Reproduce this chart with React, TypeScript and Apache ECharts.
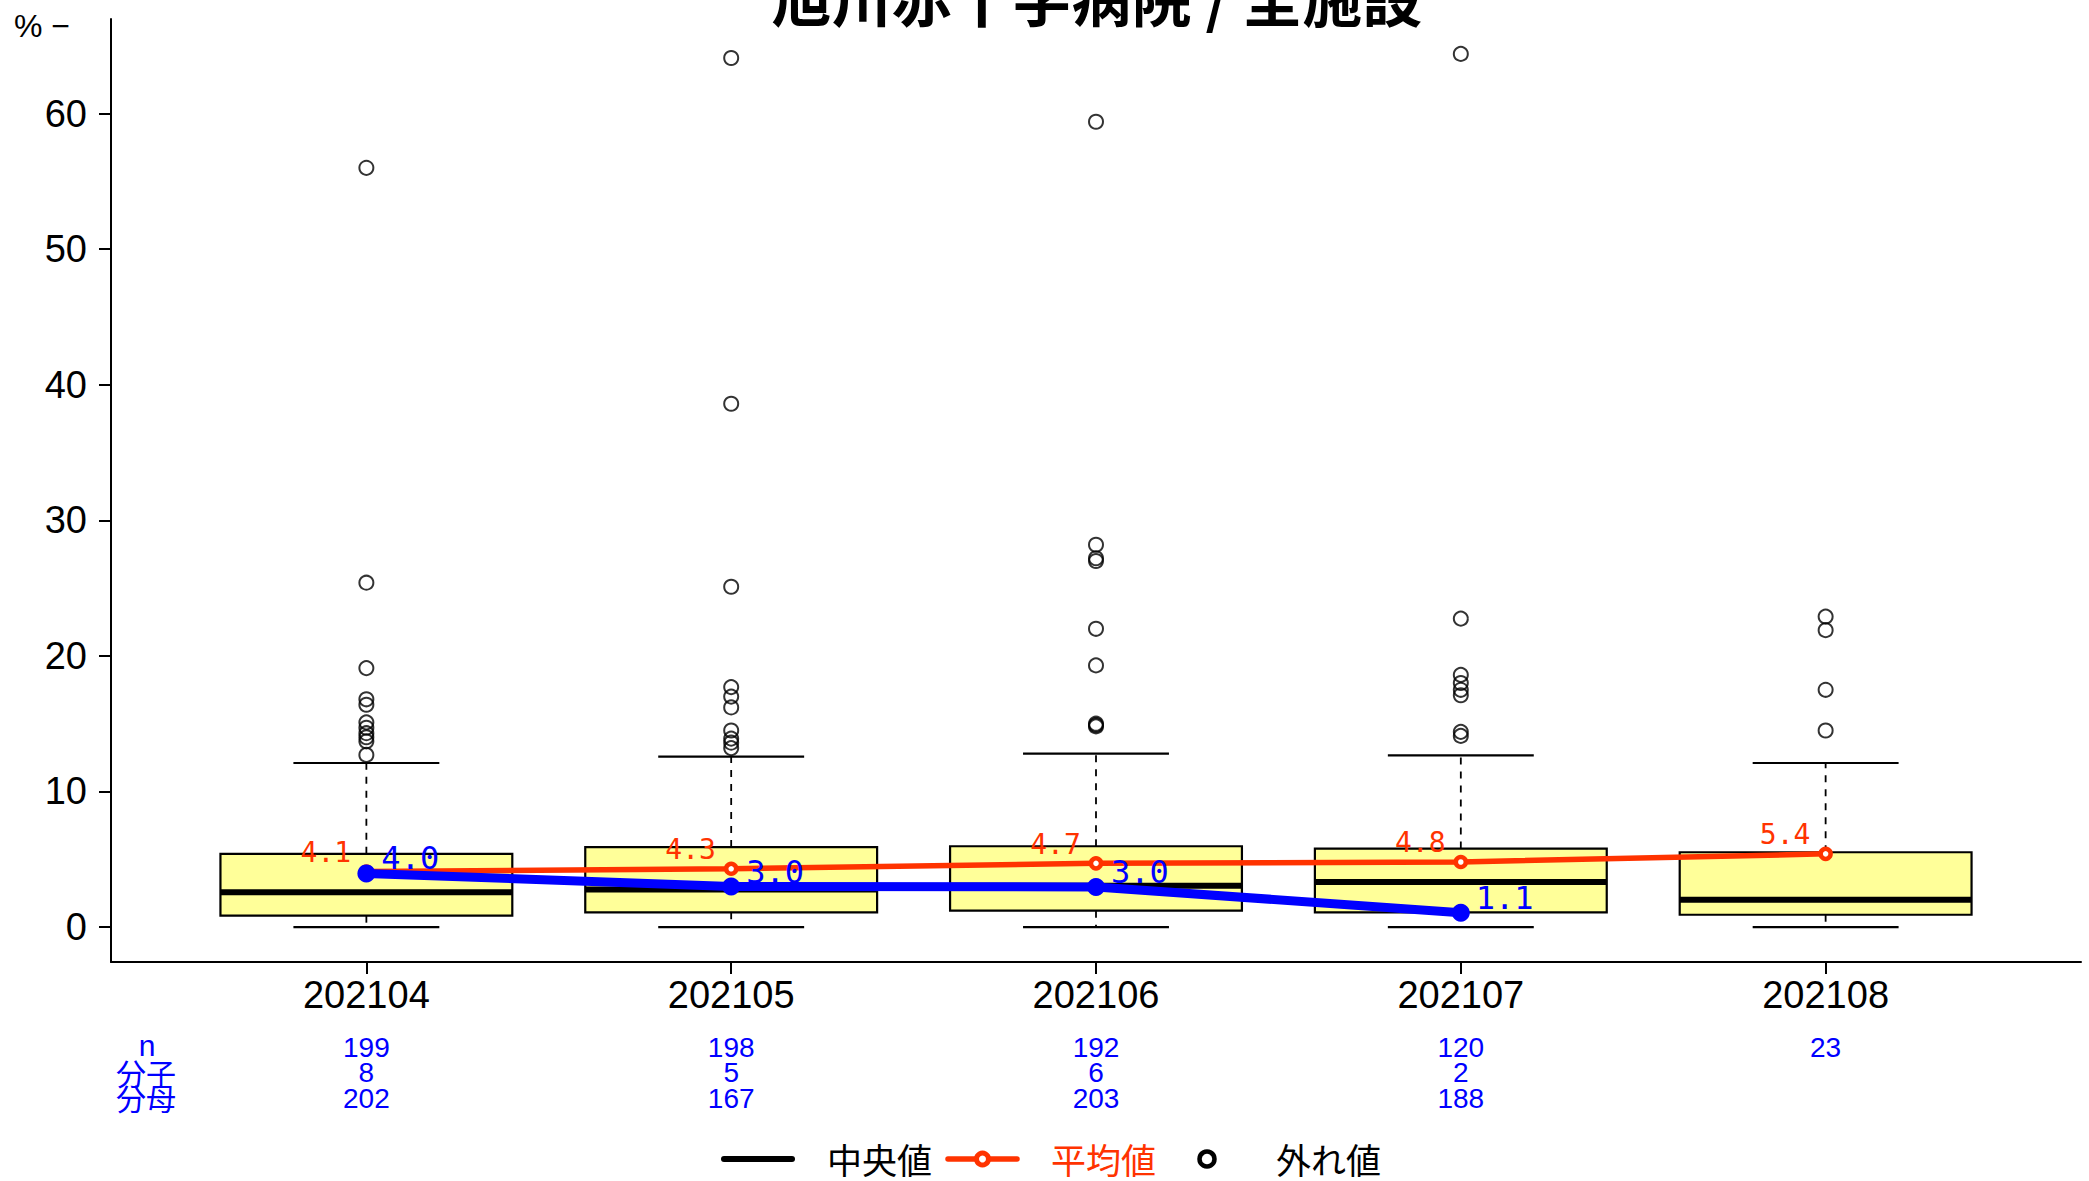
import React, { useEffect, useRef } from "react";
import * as echarts from "echarts";

// ---------- data ----------
const categories = ["202104", "202105", "202106", "202107", "202108"];
const catX = [1, 2, 3, 4, 5];
const boxLower = [0, 0, 0, 0, 0];
const boxQ1 = [0.84, 1.09, 1.21, 1.08, 0.91];
const boxMedian = [2.57, 2.77, 3.05, 3.33, 2.02];
const boxQ3 = [5.4, 5.9, 5.96, 5.79, 5.52];
const boxUpper = [12.1, 12.57, 12.8, 12.67, 12.1];

const outliers202104 = [56.0, 25.4, 19.1, 16.8, 16.4, 15.1, 14.7, 14.3, 14.0, 13.7, 12.7];
const outliers202105 = [64.1, 38.6, 25.1, 17.7, 17.0, 16.2, 14.5, 13.9, 13.6, 13.2];
const outliers202106 = [59.4, 28.2, 27.2, 27.0, 22.0, 19.3, 15.0, 14.9, 14.8];
const outliers202107 = [64.4, 22.75, 18.6, 18.0, 17.5, 17.1, 14.4, 14.1];
const outliers202108 = [22.9, 21.9, 17.5, 14.5];

const facilityMean = [4.1, 4.3, 4.7, 4.8, 5.4];
const hospitalRate = [3.96, 2.99, 2.96, 1.06];

const nCount = [199, 198, 192, 120, 23];
const numerator = [8, 5, 6, 2];
const denominator = [202, 167, 203, 188];

const yTicks = [0, 10, 20, 30, 40, 50, 60];
const rowHeaders = ["n", "分子", "分母"];

// ---------- style ----------
const RED = "#FF3300";
const BLUE = "#0000FF";
const LATIN = "Liberation Sans";
const CJK = "Noto Sans CJK JP";
const MONO = "DejaVu Sans Mono";
const X_MIN = 0.3;
const X_MAX = 5.7;
const Y_MIN = -2.576;
const Y_MAX = 66.976;

const rowAxis = (values: number[], offset: number) => ({
  type: "value",
  gridIndex: 0,
  position: "bottom",
  offset,
  min: X_MIN,
  max: X_MAX,
  axisLine: { show: false, onZero: false },
  axisTick: { show: false },
  splitLine: { show: false },
  axisLabel: {
    customValues: values.map((_, i) => i + 1),
    formatter: (v: number) => String(values[Math.round(v) - 1]),
    color: BLUE,
    fontSize: 28,
    fontFamily: LATIN,
    margin: 0,
    verticalAlign: "middle",
  },
});

export default function App() {
  const ref = useRef<HTMLDivElement>(null);

  useEffect(() => {
    if (!ref.current) return;
    const chart = echarts.init(ref.current, undefined, { renderer: "svg" });

    const boxData = catX.map((x, i) => [x, boxLower[i], boxQ1[i], boxMedian[i], boxQ3[i], boxUpper[i]]);
    const outlierGroups = [outliers202104, outliers202105, outliers202106, outliers202107, outliers202108];
    const outlierData: number[][] = [];
    outlierGroups.forEach((g, i) => g.forEach((v) => outlierData.push([catX[i], v])));

    const legendText = (text: string, x: number, fill: string) => ({
      type: "text",
      x,
      y: 1158,
      style: {
        text,
        fontSize: 35,
        lineHeight: 36,
        fontFamily: CJK,
        fill,
        align: "left",
        verticalAlign: "middle",
      },
    });

    const option: any = {
      animation: false,
      backgroundColor: "#ffffff",
      title: {
        text: "旭川赤十字病院 / 全施設",
        left: 1097,
        top: -35,
        textAlign: "center",
        padding: 0,
        textStyle: { fontSize: 60, fontWeight: "bold", fontFamily: CJK, color: "#000" },
      },
      grid: { left: 111, right: 8, top: 19, bottom: 219, containLabel: false, outerBoundsMode: "none" },
      xAxis: [
        {
          type: "value",
          min: X_MIN,
          max: X_MAX,
          axisLine: { show: true, onZero: false, lineStyle: { color: "#000", width: 2 } },
          axisTick: { show: true, customValues: catX, length: 12, lineStyle: { color: "#000", width: 2 } },
          axisLabel: {
            customValues: catX,
            formatter: (v: number) => categories[Math.round(v) - 1],
            fontSize: 38,
            fontFamily: LATIN,
            color: "#000",
            margin: 14,
          },
          splitLine: { show: false },
        },
        rowAxis(nCount, 85),
        rowAxis(numerator, 110.5),
        rowAxis(denominator, 136),
      ],
      yAxis: {
        type: "value",
        min: Y_MIN,
        max: Y_MAX,
        axisLine: { show: true, onZero: false, lineStyle: { color: "#000", width: 2 } },
        axisTick: { show: true, customValues: yTicks, length: 12, lineStyle: { color: "#000", width: 2 } },
        axisLabel: {
          customValues: yTicks,
          fontSize: 38,
          fontFamily: LATIN,
          color: "#000",
          margin: 24,
        },
        splitLine: { show: false },
      },
      series: [
        {
          type: "custom",
          name: "box",
          z: 2,
          encode: { x: 0, y: [1, 2, 3, 4, 5] },
          data: boxData,
          renderItem: (_params: any, api: any) => {
            const x = api.value(0);
            const lo = api.value(1);
            const q1 = api.value(2);
            const md = api.value(3);
            const q3 = api.value(4);
            const hi = api.value(5);
            const [xl, yq3] = api.coord([x - 0.4, q3]);
            const [xr, yq1] = api.coord([x + 0.4, q1]);
            const [xc, ymd] = api.coord([x, md]);
            const [cl, yhi] = api.coord([x - 0.2, hi]);
            const [cr, ylo] = api.coord([x + 0.2, lo]);
            const dash = { stroke: "#000", lineWidth: 1.8, lineDash: [7, 7] };
            const solid = { stroke: "#000", lineWidth: 2.2 };
            return {
              type: "group",
              children: [
                { type: "line", shape: { x1: xc, y1: yq3, x2: xc, y2: yhi }, style: dash },
                { type: "line", shape: { x1: xc, y1: yq1, x2: xc, y2: ylo }, style: dash },
                { type: "line", shape: { x1: cl, y1: yhi, x2: cr, y2: yhi }, style: solid },
                { type: "line", shape: { x1: cl, y1: ylo, x2: cr, y2: ylo }, style: solid },
                {
                  type: "rect",
                  shape: { x: xl, y: yq3, width: xr - xl, height: yq1 - yq3 },
                  style: { fill: "#FFFF99", stroke: "#000", lineWidth: 2.2 },
                },
                { type: "line", shape: { x1: xl, y1: ymd, x2: xr, y2: ymd }, style: { stroke: "#000", lineWidth: 6 } },
              ],
            };
          },
        },
        {
          type: "scatter",
          name: "外れ値",
          z: 3,
          data: outlierData,
          symbol: "circle",
          symbolSize: 14,
          itemStyle: { color: "rgba(0,0,0,0)", borderColor: "#000", borderWidth: 2 },
        },
        {
          type: "line",
          name: "平均値",
          z: 4,
          data: facilityMean.map((v, i) => [catX[i], v]),
          symbol: "circle",
          symbolSize: 10,
          lineStyle: { color: RED, width: 5.5 },
          itemStyle: { color: "#ffffff", borderColor: RED, borderWidth: 4.5 },
          label: {
            show: true,
            position: "left",
            distance: 8,
            verticalAlign: "bottom",
            offset: [0, -5],
            formatter: (p: any) => p.value[1].toFixed(1),
            color: RED,
            fontSize: 28,
            fontFamily: MONO,
          },
        },
        {
          type: "line",
          name: "病院",
          z: 5,
          data: hospitalRate.map((v, i) => [catX[i], v]),
          symbol: "circle",
          symbolSize: 18,
          lineStyle: { color: BLUE, width: 9 },
          itemStyle: { color: BLUE },
          label: {
            show: true,
            position: "right",
            distance: 6,
            verticalAlign: "bottom",
            offset: [0, 1],
            formatter: (p: any) => p.value[1].toFixed(1),
            color: BLUE,
            fontSize: 32,
            fontFamily: MONO,
          },
        },
      ],
      graphic: [
        {
          type: "text",
          x: 14,
          y: 26,
          style: { text: "% −", fontSize: 32, fontFamily: LATIN, fill: "#000", align: "left", verticalAlign: "middle" },
        },
        {
          type: "text",
          x: 147,
          y: 1045,
          style: { text: rowHeaders[0], fontSize: 30, fontFamily: LATIN, fill: BLUE, align: "center", verticalAlign: "middle" },
        },
        {
          type: "text",
          x: 146,
          y: 1072,
          style: { text: rowHeaders[1], fontSize: 30, fontFamily: CJK, fill: BLUE, align: "center", verticalAlign: "middle" },
        },
        {
          type: "text",
          x: 146,
          y: 1097,
          style: { text: rowHeaders[2], fontSize: 30, fontFamily: CJK, fill: BLUE, align: "center", verticalAlign: "middle" },
        },
        // legend
        {
          type: "line",
          shape: { x1: 724, y1: 1159, x2: 792, y2: 1159 },
          style: { stroke: "#000", lineWidth: 6, lineCap: "round" },
        },
        legendText("中央値", 827, "#000"),
        {
          type: "line",
          shape: { x1: 948, y1: 1159, x2: 1017, y2: 1159 },
          style: { stroke: RED, lineWidth: 5.5, lineCap: "round" },
        },
        {
          type: "circle",
          shape: { cx: 982.5, cy: 1159, r: 6 },
          style: { fill: "#fff", stroke: RED, lineWidth: 5 },
        },
        legendText("平均値", 1051, RED),
        {
          type: "circle",
          shape: { cx: 1207, cy: 1159, r: 7.5 },
          style: { fill: "#fff", stroke: "#000", lineWidth: 4.5 },
        },
        legendText("外れ値", 1276, "#000"),
      ],
    };

    chart.setOption(option);
    return () => chart.dispose();
  }, []);

  return (
    <div
      ref={ref}
      style={{ position: "fixed", left: 0, top: 0, width: 2089, height: 1181, background: "#fff" }}
    />
  );
}
